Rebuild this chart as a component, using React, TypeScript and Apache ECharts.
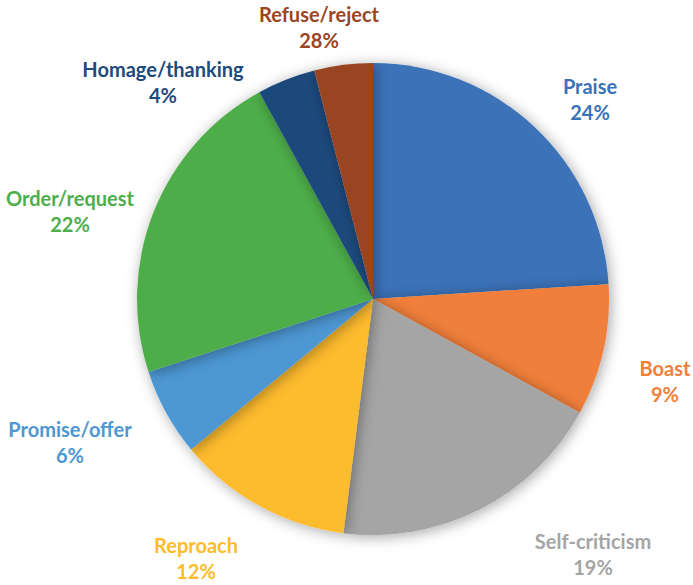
import React, { useEffect, useRef } from "react";
import * as echarts from "echarts";

const categories = ["Praise", "Boast", "Self-criticism", "Reproach", "Promise/offer", "Order/request", "Homage/thanking", "Refuse/reject"];
const values = [24, 9, 19, 12, 6, 22, 4, 4];
const percentLabels = ["24%", "9%", "19%", "12%", "6%", "22%", "4%", "28%"];
const colors = ["#3A72B8", "#F07F3A", "#A5A5A5", "#FDBB2D", "#4E97D3", "#4EAE4A", "#1E4A7C", "#9A4523"];
const labelColors = ["#3A72B8", "#F07F3A", "#A5A5A5", "#FDBB2D", "#4E97D3", "#4EAE4A", "#1E4A7C", "#9A4523"];
// label centre positions (layout only)
const labelPos: [number, number][] = [
  [590, 99], [665, 381], [593, 554], [196, 558], [70, 442], [70, 211], [163, 82], [319, 27],
];

export default function App() {
  const ref = useRef<HTMLDivElement>(null);
  useEffect(() => {
    document.body.style.margin = "0";
    const chart = echarts.init(ref.current!, undefined, { renderer: "svg" });
    chart.setOption({
      animation: false,
      backgroundColor: "#ffffff",
      series: [
        {
          type: "pie",
          center: [373, 299],
          radius: 236,
          startAngle: 90,
          clockwise: true,
          avoidLabelOverlap: false,
          data: categories.map((c, i) => ({
            name: c,
            value: values[i],
            itemStyle: { color: colors[i] },
            label: { color: labelColors[i] },
          })),
          itemStyle: {
            borderWidth: 0,
            shadowBlur: 14,
            shadowColor: "rgba(0,0,0,0.35)",
            shadowOffsetX: 2,
            shadowOffsetY: 2,
          },
          label: {
            show: true,
            position: "outside",
            formatter: (p: any) => `${p.name}\n${percentLabels[p.dataIndex]}`,
            fontFamily: "Lato",
            fontWeight: "bold",
            fontSize: 20,
            lineHeight: 26,
            align: "center",
          },
          labelLine: { show: false },
          labelLayout: (params: any) => ({
            x: labelPos[params.dataIndex][0],
            y: labelPos[params.dataIndex][1],
            align: "center",
            verticalAlign: "middle",
          }),
        },
      ],
    });
    return () => chart.dispose();
  }, []);
  return <div ref={ref} style={{ width: 693, height: 585 }} />;
}
